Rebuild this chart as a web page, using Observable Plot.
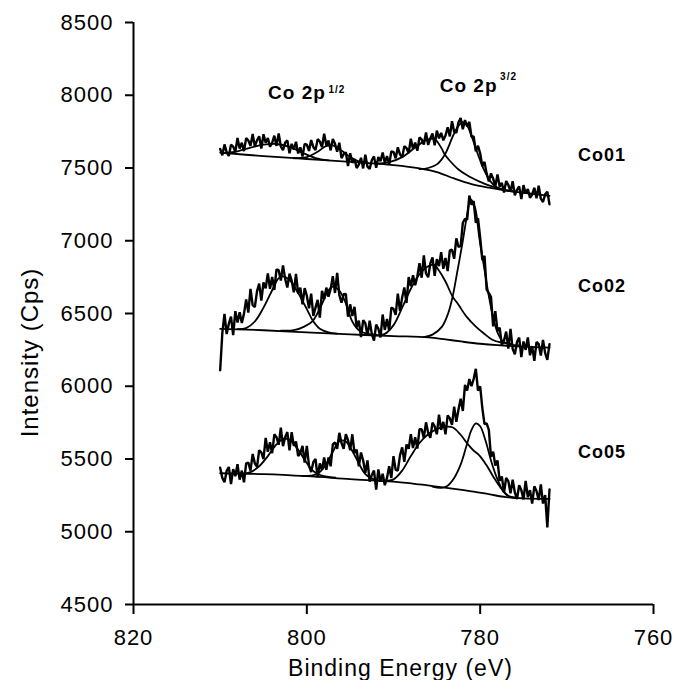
<!DOCTYPE html>
<html>
<head>
<meta charset="utf-8">
<script src="https://cdn.jsdelivr.net/npm/d3@7"></script>
<script src="https://cdn.jsdelivr.net/npm/@observablehq/plot@0.6"></script>
<style>
  body { margin: 0; background: #fff; }
  svg { font-family: Arial, "Liberation Sans", sans-serif; }
  g[aria-label$="axis tick"] path, .tick line { stroke-width: 2px; }
</style>
</head>
<body>
<div id="chart"></div>
<script>
// Binding energy sampling of the spectra (eV), 810 -> 772 in 0.25 eV steps
const energies = d3.range(810, 771.9, -0.25);

// Measured spectra (Cps), one value per energy above (rows = 2 eV)
const co01 = [
  7631, 7587, 7662, 7608, 7583, 7660, 7647, 7610,
  7706, 7634, 7674, 7616, 7705, 7689, 7652, 7734,
  7648, 7690, 7718, 7634, 7732, 7674, 7706, 7647,
  7673, 7722, 7652, 7738, 7649, 7623, 7674, 7690,
  7601, 7666, 7626, 7680, 7600, 7642, 7579, 7666,
  7661, 7617, 7692, 7644, 7623, 7698, 7682, 7643,
  7736, 7657, 7689, 7621, 7700, 7666, 7612, 7674,
  7568, 7595, 7608, 7514, 7602, 7536, 7561, 7500,
  7523, 7570, 7497, 7591, 7509, 7493, 7554, 7580,
  7501, 7576, 7546, 7607, 7535, 7582, 7524, 7613,
  7611, 7567, 7642, 7594, 7573, 7650, 7637, 7603,
  7701, 7631, 7674, 7619, 7710, 7696, 7662, 7744,
  7658, 7705, 7738, 7656, 7757, 7704, 7741, 7690,
  7723, 7780, 7717, 7821, 7749, 7743, 7814, 7843,
  7766, 7829, 7786, 7817, 7715, 7717, 7614, 7653,
  7601, 7512, 7542, 7461, 7408, 7463, 7427, 7375,
  7456, 7371, 7399, 7331, 7410, 7384, 7337, 7409,
  7313, 7350, 7373, 7286, 7382, 7324, 7356, 7295,
  7318, 7364, 7292, 7378, 7289, 7266, 7319, 7337,
  7251
];
const co02 = [
  6110, 6366, 6497, 6359, 6430, 6479, 6352, 6516,
  6438, 6508, 6435, 6499, 6596, 6506, 6669, 6557,
  6544, 6652, 6705, 6588, 6713, 6673, 6776, 6670,
  6751, 6662, 6804, 6798, 6726, 6831, 6738, 6679,
  6774, 6726, 6645, 6773, 6637, 6677, 6563, 6675,
  6622, 6536, 6637, 6484, 6540, 6594, 6472, 6656,
  6598, 6678, 6615, 6669, 6756, 6641, 6779, 6627,
  6574, 6632, 6635, 6478, 6563, 6483, 6546, 6405,
  6451, 6337, 6454, 6433, 6346, 6451, 6358, 6314,
  6424, 6396, 6335, 6493, 6387, 6462, 6383, 6540,
  6532, 6491, 6637, 6519, 6610, 6679, 6572, 6751,
  6688, 6763, 6695, 6754, 6846, 6746, 6899, 6775,
  6749, 6844, 6885, 6758, 6873, 6826, 6921, 6807,
  6881, 6792, 6934, 6938, 6876, 7016, 6958, 6964,
  7124, 7151, 7145, 7310, 7247, 7272, 7123, 7155,
  7022, 6866, 6897, 6664, 6640, 6614, 6412, 6516,
  6378, 6403, 6285, 6314, 6376, 6258, 6394, 6257,
  6219, 6304, 6335, 6201, 6308, 6250, 6336, 6213,
  6276, 6174, 6304, 6291, 6211, 6318, 6228, 6182,
  6289
];
const co05 = [
  5440, 5370, 5340, 5418, 5445, 5328, 5430, 5382,
  5465, 5358, 5420, 5340, 5470, 5475, 5420, 5535,
  5470, 5445, 5560, 5545, 5500, 5645, 5550, 5615,
  5540, 5670, 5650, 5598, 5715, 5588, 5650, 5685,
  5560, 5685, 5590, 5620, 5520, 5540, 5590, 5475,
  5590, 5455, 5410, 5480, 5500, 5375, 5470, 5425,
  5510, 5425, 5510, 5450, 5600, 5615, 5570, 5680,
  5610, 5570, 5670, 5630, 5560, 5670, 5540, 5565,
  5450, 5545, 5490, 5405, 5490, 5345, 5390, 5420,
  5290, 5428, 5345, 5398, 5320, 5370, 5450, 5370,
  5520, 5425, 5420, 5525, 5580, 5480, 5600, 5570,
  5670, 5575, 5650, 5572, 5705, 5705, 5645, 5752,
  5680, 5645, 5750, 5725, 5670, 5805, 5700, 5755,
  5670, 5800, 5780, 5735, 5860, 5755, 5840, 5915,
  5830, 6010, 5970, 6050, 6000, 6050, 6120, 5970,
  6000, 5850, 5740, 5745, 5700, 5515, 5550, 5455,
  5490, 5350, 5380, 5270, 5370, 5348, 5265, 5358,
  5270, 5225, 5320, 5286, 5222, 5350, 5238, 5286,
  5194, 5312, 5280, 5218, 5326, 5194, 5252, 5030,
  5290
];

// Backgrounds and fitted components: [energy eV, intensity Cps]
const co01Bg = [[810,7605],[805,7582],[800,7562],[795,7542],[790,7520],[787,7498],[785,7472],[783,7428],[781,7390],[779,7365],[777,7345],[775,7330],[772,7308]];
const co01P1 = [[809.5,7603],[808,7615],[806.5,7640],[805,7660],[803.5,7665],[802,7645],[800.5,7605],[799,7568],[797.5,7553]];
const co01P2 = [[801.5,7567],[800,7575],[798.8,7610],[797.8,7650],[797,7655],[796,7620],[795,7575],[794,7545],[793,7537]];
const co01Sh = [[792,7528],[790.5,7540],[789,7575],[787.5,7640],[786.3,7690],[785.3,7700],[784.5,7640],[784.1,7595],[783.5,7550],[782.5,7490],[781.5,7450],[780,7405],[779,7380],[777.5,7355],[776,7338]];
const co01Main = [[787,7492],[786,7500],[785,7525],[784.1,7590],[783.1,7725],[782.5,7790],[782,7815],[781.5,7790],[781,7720],[780.3,7600],[779.5,7480],[778.7,7400],[778,7365],[777,7345],[776,7337]];

const co02Bg = [[810,6395],[805,6385],[800,6370],[795,6356],[790,6345],[786,6336],[784,6322],[782,6306],[780,6292],[778,6282],[775,6272],[772,6265]];
const co02P1 = [[808,6393],[807,6400],[806,6445],[805,6540],[804,6660],[803.3,6740],[802.8,6755],[802,6730],[801,6640],[800,6530],[799.3,6450],[798.5,6395],[797.5,6370],[796.5,6362]];
const co02P2 = [[803,6382],[801.5,6385],[800.3,6410],[799.3,6450],[798.3,6560],[797.5,6660],[797,6685],[796.3,6660],[795.5,6570],[794.8,6450],[794,6385],[793,6360],[792,6355]];
const co02Sh = [[792,6350],[791,6360],[790,6420],[789,6540],[788,6670],[787,6770],[786,6825],[785.3,6835],[784.7,6790],[784,6720],[783.2,6618],[782.5,6560],[781.6,6480],[780.5,6410],[779.5,6360],[778.6,6320],[777.5,6300],[776.5,6292]];
const co02Main = [[786.5,6338],[785.5,6355],[784.4,6410],[783.7,6500],[783.2,6610],[782.6,6800],[782,7000],[781.5,7180],[781.1,7285],[780.6,7230],[780.1,7020],[779.5,6800],[779,6620],[778.5,6470],[778,6370],[777.4,6310],[776.5,6288],[775.5,6280]];

const co05Bg = [[810,5402],[805,5396],[800,5382],[795,5362],[790,5344],[787,5325],[785,5310],[783,5295],[781,5278],[779,5258],[777,5238],[775,5230],[772,5226]];
const co05P1 = [[807.5,5398],[806.5,5410],[805.5,5450],[804.5,5520],[803.5,5600],[802.7,5640],[802,5630],[801.2,5580],[800.3,5500],[799.5,5430],[798.7,5395],[797.7,5378],[796.7,5372]];
const co05P2 = [[800.5,5382],[799.5,5385],[798.7,5400],[797.8,5460],[797,5550],[796.2,5625],[795.5,5620],[794.8,5560],[794,5470],[793.3,5400],[792.5,5365],[791.5,5352]];
const co05Sh = [[791,5350],[790,5360],[789,5420],[788,5520],[787,5610],[786,5670],[785,5705],[784,5722],[783.2,5718],[782.3,5670],[781.5,5607],[780.8,5560],[780.1,5525],[779.3,5460],[778.5,5380],[777.6,5300],[776.7,5245],[775.8,5232]];
const co05Main = [[785.5,5310],[784.5,5302],[783.8,5315],[783,5370],[782.2,5470],[781.5,5607],[781,5700],[780.5,5745],[780,5725],[779.4,5630],[778.7,5480],[778,5360],[777.3,5275],[776.7,5242],[776,5235]];

// Axis ticks
const xTicks = [820, 800, 780, 760];
const yTicks = [4500, 5000, 5500, 6000, 6500, 7000, 7500, 8000, 8500];

// Annotations
const sampleNames = ["Co01", "Co02", "Co05"];
const sampleLabelE = [768.7, 768.7, 768.7];
const sampleLabelI = [7586, 6686, 5548];
const peakNames = ["Co 2p", "Co 2p"];
const peakSup = ["1/2", "3/2"];
const peakLabelE = [797.8, 778.0];
const peakLabelI = [8019, 8064];
const peakSupE = [797.5, 777.7];
const peakSupI = [8040, 8130];
const yTitle = [{t: "Intensity (Cps)", e: 831.9, v: 6232}];

const spectra = [co01, co02, co05].map(vals => energies.map((e, i) => ({e, v: vals[i]})));
const fits = [co01Bg, co01P1, co01P2, co01Sh, co01Main,
              co02Bg, co02P1, co02P2, co02Sh, co02Main,
              co05Bg, co05P1, co05P2, co05Sh, co05Main];

const sampleLabels = sampleNames.map((t, i) => ({t, e: sampleLabelE[i], v: sampleLabelI[i]}));
const peakLabels = peakNames.map((t, i) => ({t, e: peakLabelE[i], v: peakLabelI[i]}));
const supLabels = peakSup.map((t, i) => ({t, e: peakSupE[i], v: peakSupI[i]}));

const chart = Plot.plot({
  width: 675,
  height: 680,
  marginLeft: 133,
  marginRight: 22,
  marginTop: 22,
  marginBottom: 76,
  style: {fontFamily: "Arial, 'Liberation Sans', sans-serif", fontSize: "22px", letterSpacing: "1px", color: "#000", background: "#fff"},
  x: {domain: [820, 760], ticks: xTicks, tickSize: 10, tickPadding: 15, label: null, tickFormat: d => String(d)},
  y: {domain: [4500, 8500], ticks: yTicks, tickSize: 8, tickPadding: 12, label: null, tickFormat: d => String(d)},
  marks: [
    ...fits.map(f => Plot.line(f, {x: d => d[0], y: d => d[1], curve: "catmull-rom", stroke: "#000", strokeWidth: 1.8})),
    ...spectra.map(s => Plot.line(s, {x: "e", y: "v", stroke: "#000", strokeWidth: 2.4, strokeLinejoin: "miter"})),
    Plot.ruleX([820], {stroke: "#000", strokeWidth: 2}),
    Plot.ruleY([4500], {stroke: "#000", strokeWidth: 2}),
    Plot.text(sampleLabels, {x: "e", y: "v", text: "t", textAnchor: "start", fontWeight: "bold", fontSize: 18}),
    Plot.text(peakLabels, {x: "e", y: "v", text: "t", textAnchor: "end", fontWeight: "bold", fontSize: 19}),
    Plot.text(supLabels, {x: "e", y: "v", text: "t", textAnchor: "start", fontWeight: "bold", fontSize: 10}),
    Plot.text(["Binding Energy (eV)"], {frameAnchor: "bottom", dx: 7, dy: 71, fontSize: 23}),
    Plot.text(yTitle, {x: "e", y: "v", text: "t", rotate: -90, fontSize: 24})
  ]
});
document.getElementById("chart").appendChild(chart);
</script>
</body>
</html>
